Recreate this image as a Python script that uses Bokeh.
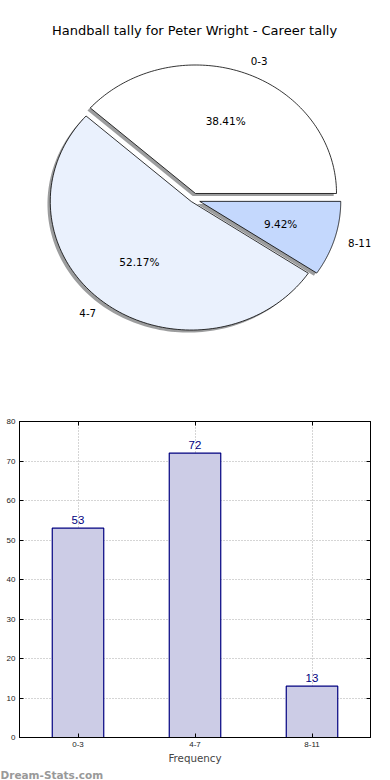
import math
import numpy as np
from bokeh.plotting import figure
from bokeh.models import (Range1d, FactorRange, FixedTicker, LinearAxis,
                          CategoricalAxis, Title)
from bokeh.layouts import column
from bokeh.core.properties import value
from bokeh.embed import file_html
from bokeh.resources import INLINE

# ---------------- data ----------------
title_text = "Handball tally for Peter Wright - Career tally"
categories = ["0-3", "4-7", "8-11"]
counts = [53, 72, 13]
pie_colors = ["#ffffff", "#eaf1fd", "#c4d8fd"]
explode = [0.05, 0.02, 0.05]
y_ticks = [0, 10, 20, 30, 40, 50, 60, 70, 80]
x_label = "Frequency"
watermark = "Dream-Stats.com"

FONT = value("DejaVu Sans")

# ---------------- pie ----------------
p1 = figure(width=390, height=400, x_range=Range1d(19, 370), y_range=Range1d(400, 0),
            output_backend="svg", toolbar_location=None,
            min_border_left=19, min_border_right=20, min_border_top=0, min_border_bottom=0,
            x_axis_location=None, y_axis_location=None)
p1.grid.visible = False
p1.outline_line_color = None

cx, cy = 192.5, 199.0
rx, ry = 141.0, 128.5
total = float(sum(counts))

xs, ys, sxs, sys_ = [], [], [], []
lab_x, lab_y, lab_t, lab_align = [], [], [], []
pct_x, pct_y, pct_t = [], [], []
start = 0.0
for cat, c, e in zip(categories, counts, explode):
    frac = c / total
    a0 = start * 2 * math.pi
    a1 = (start + frac) * 2 * math.pi
    mid = 0.5 * (a0 + a1)
    ox = cx + e * rx * math.cos(mid)
    oy = cy - e * ry * math.sin(mid)
    t = np.linspace(a0, a1, 120)
    px = [ox] + list(ox + rx * np.cos(t)) + [ox]
    py = [oy] + list(oy - ry * np.sin(t)) + [oy]
    xs.append(px)
    ys.append(py)
    sxs.append([v - 0.02 * rx for v in px])
    sys_.append([v + 0.02 * ry for v in py])
    lab_x.append(cx + (1.1 + e) * rx * math.cos(mid))
    lab_y.append(cy - (1.1 + e) * ry * math.sin(mid))
    lab_t.append(cat)
    lab_align.append("left" if math.cos(mid) > 0 else "right")
    pct_x.append(cx + (0.6 + e) * rx * math.cos(mid))
    pct_y.append(cy - (0.6 + e) * ry * math.sin(mid))
    pct_t.append("%.2f%%" % (100.0 * frac))
    start += frac

p1.patches(sxs, sys_, fill_color="#4b4c4f", fill_alpha=0.55, line_color=None)
p1.patches(xs, ys, fill_color=pie_colors, line_color="black", line_width=0.8)

p1.text(x=lab_x, y=lab_y, text=lab_t, text_align=lab_align, text_baseline="middle",
        text_font=FONT, text_font_size="10.3px", text_color="black")
p1.text(x=pct_x, y=pct_y, text=pct_t, text_align="center", text_baseline="middle",
        text_font=FONT, text_font_size="10.5px", text_color="black")
p1.text(x=[194], y=[30], text=[title_text], text_align="center", text_baseline="middle",
        text_font=FONT, text_font_size="13px", text_color="black")

# ---------------- bar ----------------
p2 = figure(width=390, height=380, x_range=FactorRange(*categories), y_range=Range1d(0, 80),
            output_backend="svg", toolbar_location=None,
            min_border_left=19, min_border_right=20, min_border_top=21, min_border_bottom=40)
p2.outline_line_color = "black"
p2.outline_line_width = 1

p2.vbar(x=categories, top=counts, width=0.44, fill_color="#ccccE6",
        line_color="#000080", line_width=1.2)
p2.text(x=categories, y=counts, text=[str(c) for c in counts], y_offset=-8.5,
        text_align="center", text_baseline="middle",
        text_font=value("Liberation Sans"), text_font_size="11.5px", text_color="#000080")

p2.yaxis.ticker = FixedTicker(ticks=y_ticks)
for g in (p2.xgrid, p2.ygrid):
    g.grid_line_color = "#aaaaaa"
    g.grid_line_dash = "1 2"
    g.grid_line_width = 1
p2.ygrid.ticker = FixedTicker(ticks=y_ticks)

for ax in (p2.xaxis, p2.yaxis):
    ax.major_tick_in = 4
    ax.major_tick_out = 0
    ax.minor_tick_in = 0
    ax.minor_tick_out = 0
    ax.axis_line_color = "black"
    ax.major_tick_line_color = "black"
    ax.major_label_text_font = "Liberation Sans"
    ax.major_label_text_font_size = "8px"
    ax.major_label_text_color = "#222222"
    ax.major_label_standoff = 4
p2.xaxis.axis_label = x_label
p2.xaxis.axis_label_text_font = "DejaVu Sans"
p2.xaxis.axis_label_text_font_size = "10.3px"
p2.xaxis.axis_label_text_font_style = "normal"
p2.xaxis.axis_label_standoff = 2

right_ax = LinearAxis(ticker=FixedTicker(ticks=y_ticks), major_label_text_color=None,
                      major_label_text_font_size="1px",
                      major_tick_in=4, major_tick_out=0, minor_tick_in=0, minor_tick_out=0,
                      major_label_standoff=0, axis_line_color="black")
p2.add_layout(right_ax, "right")
top_ax = CategoricalAxis(major_label_text_color=None, major_label_text_font_size="1px",
                         major_tick_in=4, major_tick_out=0,
                         major_label_standoff=0, axis_line_color="black")
p2.add_layout(top_ax, "above")

wm = Title(text=watermark, align="left", offset=-19, standoff=0,
           text_font="DejaVu Sans", text_font_size="10.5px", text_font_style="bold",
           text_color="#999999")
p2.add_layout(wm, "below")

layout = column(p1, p2, spacing=0)
open("out.html", "w").write(file_html(layout, INLINE))
